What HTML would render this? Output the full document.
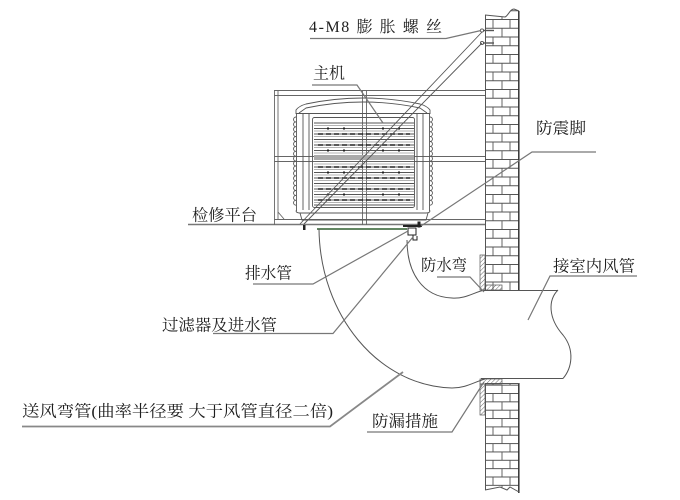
<!DOCTYPE html>
<html><head><meta charset="utf-8">
<style>
html,body{margin:0;padding:0;background:#fff;}
svg{display:block;}
text{font-family:"Liberation Serif","Noto Serif CJK SC",serif;fill:#1e1e1e;font-size:16px;}
</style></head><body>
<svg width="680" height="500" viewBox="0 0 680 500" xmlns="http://www.w3.org/2000/svg">
<defs>
<pattern id="brA" patternUnits="userSpaceOnUse" x="485" y="19" width="34" height="17.5">
 <path d="M0,0.5H34M0,9.25H34M8,0V8.75M25,0V8.75M17,8.75V17.5" stroke="#555" stroke-width="0.9" fill="none"/>
</pattern>
<pattern id="brB" patternUnits="userSpaceOnUse" x="485" y="393" width="34" height="16.7">
 <path d="M0,0.5H34M0,8.85H34M8,0V8.35M25,0V8.35M17,8.35V16.7" stroke="#555" stroke-width="0.9" fill="none"/>
</pattern>
<pattern id="hatch" patternUnits="userSpaceOnUse" width="3" height="3" patternTransform="rotate(45)">
 <line x1="0" y1="0" x2="0" y2="3" stroke="#444" stroke-width="0.8"/>
</pattern>
</defs>

<!-- ===== Wall upper ===== -->
<path d="M485,15 L505,17 C508,16 510,9 514,9 L519,11 L519,290 L485,290 Z" fill="url(#brA)"/>
<path d="M485,15 L505,17 C508,16 510,9 514,9 L519,11" fill="none" stroke="#555" stroke-width="1"/>
<line x1="485.5" y1="15" x2="485.5" y2="290" stroke="#555" stroke-width="1"/>
<line x1="518.8" y1="11" x2="518.8" y2="290" stroke="#333" stroke-width="1.5"/>

<!-- ===== Wall lower ===== -->
<path d="M485,383 L519,383 L519,492 L510,487 L507,490 L500,487 L485,490 Z" fill="url(#brB)"/>
<line x1="485.5" y1="383" x2="485.5" y2="490" stroke="#555" stroke-width="1"/>
<line x1="518.8" y1="383" x2="518.8" y2="493" stroke="#333" stroke-width="1.5"/>
<path d="M485,490 L500,487 L507,490 L510,487 L519,492" fill="none" stroke="#555" stroke-width="1"/>
<line x1="485" y1="383.5" x2="519" y2="383.5" stroke="#555" stroke-width="0.9"/>

<!-- flashing upper -->
<rect x="480" y="255" width="5" height="35" fill="url(#hatch)" stroke="#555" stroke-width="0.7"/>
<rect x="485" y="285" width="17" height="5" fill="url(#hatch)" stroke="#555" stroke-width="0.7"/>
<!-- flashing lower -->
<rect x="480" y="379" width="22" height="5" fill="url(#hatch)" stroke="#555" stroke-width="0.7"/>
<rect x="480" y="384" width="5" height="31" fill="url(#hatch)" stroke="#555" stroke-width="0.7"/>

<!-- ===== Frame (platform) ===== -->
<g stroke="#666" stroke-width="0.9" fill="none">
 <line x1="274" y1="90.5" x2="485" y2="90.5"/>
 <line x1="274" y1="95.5" x2="485" y2="95.5"/>
 <line x1="274" y1="156.5" x2="485" y2="156.5"/>
 <line x1="274" y1="161.5" x2="485" y2="161.5"/>
 <line x1="274" y1="219.5" x2="485" y2="219.5"/>
 <line x1="188" y1="224.5" x2="485" y2="224.5" stroke="#777" stroke-width="1.4"/>
 <line x1="274.5" y1="90" x2="274.5" y2="225"/>
 <line x1="278" y1="90" x2="278" y2="220"/>
 <line x1="362.5" y1="90" x2="362.5" y2="225"/>
 <line x1="366.5" y1="90" x2="366.5" y2="225"/>
 <line x1="278" y1="212" x2="284" y2="219"/>
</g>

<!-- ===== Unit ===== -->
<g stroke="#555" stroke-width="0.9" fill="none">
 <path d="M296,114 L296,110 Q299,106 306,104 Q363,92 420,104 Q427,106 430,110 L430,114"/>
 <path d="M299,113 L306,108 Q363,96 420,108 L427,113"/>
 <line x1="296" y1="113.5" x2="430" y2="113.5"/>
 <line x1="296.5" y1="113" x2="296.5" y2="211"/>
 <line x1="429.5" y1="113" x2="429.5" y2="211"/>
 <line x1="303" y1="114" x2="303" y2="210"/>
 <line x1="309" y1="114" x2="309" y2="210"/>
 <line x1="417" y1="114" x2="417" y2="210"/>
 <line x1="423" y1="114" x2="423" y2="210"/>
 <rect x="312.5" y="117.5" width="102" height="90" rx="2"/>
 <path d="M296,210.5 Q296,213 300,213 L426,213 Q430,213 430,210.5"/>
 <path d="M300,213 L302,220 L426,220 L428,213"/>
 <path d="M296,117 a2.45,2.45 0 0 0 0,4.9 a2.45,2.45 0 0 0 0,4.9 a2.45,2.45 0 0 0 0,4.9 a2.45,2.45 0 0 0 0,4.9 a2.45,2.45 0 0 0 0,4.9 a2.45,2.45 0 0 0 0,4.9 a2.45,2.45 0 0 0 0,4.9 a2.45,2.45 0 0 0 0,4.9 a2.45,2.45 0 0 0 0,4.9 a2.45,2.45 0 0 0 0,4.9 a2.45,2.45 0 0 0 0,4.9 a2.45,2.45 0 0 0 0,4.9 a2.45,2.45 0 0 0 0,4.9 a2.45,2.45 0 0 0 0,4.9 a2.45,2.45 0 0 0 0,4.9 a2.45,2.45 0 0 0 0,4.9 a2.45,2.45 0 0 0 0,4.9 a2.45,2.45 0 0 0 0,4.9"/>
 <path d="M430,117 a2.45,2.45 0 0 1 0,4.9 a2.45,2.45 0 0 1 0,4.9 a2.45,2.45 0 0 1 0,4.9 a2.45,2.45 0 0 1 0,4.9 a2.45,2.45 0 0 1 0,4.9 a2.45,2.45 0 0 1 0,4.9 a2.45,2.45 0 0 1 0,4.9 a2.45,2.45 0 0 1 0,4.9 a2.45,2.45 0 0 1 0,4.9 a2.45,2.45 0 0 1 0,4.9 a2.45,2.45 0 0 1 0,4.9 a2.45,2.45 0 0 1 0,4.9 a2.45,2.45 0 0 1 0,4.9 a2.45,2.45 0 0 1 0,4.9 a2.45,2.45 0 0 1 0,4.9 a2.45,2.45 0 0 1 0,4.9 a2.45,2.45 0 0 1 0,4.9 a2.45,2.45 0 0 1 0,4.9"/>
</g>
<!-- louvers -->
<rect x="314" y="155" width="100" height="5" fill="#aaa"/>
<g stroke="#555" stroke-width="0.9">
 <line x1="314" y1="123" x2="414" y2="123"/>
 <line x1="314" y1="128.5" x2="414" y2="128.5"/>
 <line x1="314" y1="134" x2="414" y2="134"/>
 <line x1="314" y1="139.5" x2="414" y2="139.5"/>
 <line x1="314" y1="145" x2="414" y2="145"/>
 <line x1="314" y1="150.5" x2="414" y2="150.5"/>
 <line x1="314" y1="167" x2="414" y2="167"/>
 <line x1="314" y1="172.5" x2="414" y2="172.5"/>
 <line x1="314" y1="178" x2="414" y2="178"/>
 <line x1="314" y1="183.5" x2="414" y2="183.5"/>
 <line x1="314" y1="189" x2="414" y2="189"/>
 <line x1="314" y1="194.5" x2="414" y2="194.5"/>
 <line x1="314" y1="200" x2="414" y2="200"/>
 <line x1="314" y1="205" x2="414" y2="205"/>
</g>
<g stroke="#999" stroke-width="0.8">
 <line x1="314" y1="125.5" x2="414" y2="125.5"/>
 <line x1="314" y1="131" x2="414" y2="131"/>
 <line x1="314" y1="136.5" x2="414" y2="136.5"/>
 <line x1="314" y1="142" x2="414" y2="142"/>
 <line x1="314" y1="147.5" x2="414" y2="147.5"/>
 <line x1="314" y1="153" x2="414" y2="153"/>
 <line x1="314" y1="164" x2="414" y2="164"/>
 <line x1="314" y1="169.5" x2="414" y2="169.5"/>
 <line x1="314" y1="175" x2="414" y2="175"/>
 <line x1="314" y1="180.5" x2="414" y2="180.5"/>
 <line x1="314" y1="186" x2="414" y2="186"/>
 <line x1="314" y1="191.5" x2="414" y2="191.5"/>
 <line x1="314" y1="197" x2="414" y2="197"/>
 <line x1="314" y1="202.5" x2="414" y2="202.5"/>
</g>
<g stroke="#222" stroke-width="1.6" stroke-dasharray="5,3">
 <line x1="318" y1="134" x2="410" y2="134"/>
 <line x1="318" y1="145" x2="410" y2="145"/>
 <line x1="318" y1="167" x2="410" y2="167"/>
 <line x1="318" y1="178" x2="410" y2="178"/>
 <line x1="318" y1="189" x2="410" y2="189"/>
 <line x1="318" y1="200" x2="410" y2="200"/>
</g>
<g fill="#222">
 <rect x="327" y="127.5" width="2" height="2"/><rect x="343" y="127.5" width="2" height="2"/><rect x="382" y="127.5" width="2" height="2"/><rect x="398" y="127.5" width="2" height="2"/>
 <rect x="327" y="149.5" width="2" height="2"/><rect x="343" y="149.5" width="2" height="2"/><rect x="382" y="149.5" width="2" height="2"/><rect x="398" y="149.5" width="2" height="2"/>
 <rect x="327" y="171.5" width="2" height="2"/><rect x="343" y="171.5" width="2" height="2"/><rect x="382" y="171.5" width="2" height="2"/><rect x="398" y="171.5" width="2" height="2"/>
 <rect x="327" y="193.5" width="2" height="2"/><rect x="343" y="193.5" width="2" height="2"/><rect x="382" y="193.5" width="2" height="2"/><rect x="398" y="193.5" width="2" height="2"/>
</g>

<!-- foot, green line, valve -->
<rect x="303" y="225" width="2.5" height="5" fill="#222"/>
<line x1="317" y1="229" x2="407" y2="229" stroke="#2f5f2f" stroke-width="1.6"/>
<g stroke="#222" fill="none" stroke-width="1">
 <line x1="403" y1="226" x2="422" y2="226" stroke-width="2"/>
 <rect x="408" y="228" width="8" height="7"/>
 <path d="M413,235 L413,240 L417,240 L417,236"/>
 <rect x="418" y="222" width="2" height="5" fill="#222"/>
</g>

<!-- rods & bolts -->
<g stroke="#555" stroke-width="0.9" fill="none">
 <line x1="482" y1="32" x2="300" y2="224"/>
 <line x1="482" y1="43" x2="304" y2="224"/>
 <circle cx="482" cy="30.5" r="1.6"/>
 <circle cx="482" cy="43" r="1.6"/>
 <line x1="483" y1="30.5" x2="494" y2="30.5" stroke-width="1.4"/>
 <line x1="483" y1="43" x2="494" y2="43" stroke-width="1.4"/>
</g>

<!-- ===== Duct ===== -->
<g stroke="#555" stroke-width="1" fill="none">
 <path d="M319,229 C320,315 378,386 452,388 C466,388 474,382 485,379"/>
 <path d="M407,240 C407,272 422,297 452,298 C466,299 474,292 485,290"/>
 <line x1="481" y1="290.5" x2="558" y2="290.5"/>
 <line x1="481" y1="378.5" x2="563" y2="378.5"/>
 <path d="M558,290 C548,300 548,318 563,335 C575,350 572,368 563,378.5"/>
</g>

<!-- ===== Leaders ===== -->
<g stroke="#777" stroke-width="1.2" fill="none">
 <path d="M310,38.5 L446,38.5 L481,30.5"/>
 <path d="M312,85 L357,85 L383,123"/>
 <path d="M596,152 L532,152 L421,226"/>
 <path d="M253,284 L313,284 L408,231"/>
 <path d="M213,333.5 L333,333.5 L413,237"/>
 <path d="M437,277 L470,277 L484,292"/>
 <path d="M637,276 L550,276 L528,320"/>
 <path d="M367,432 L452,432 L484,382"/>
 <path d="M22,426.5 L330,426.5 L403,372" stroke-width="1.8" stroke="#888"/>
</g>

<!-- ===== Labels ===== -->
<text x="309" y="32" font-size="15" textLength="133" lengthAdjust="spacing">4-M8 膨 胀 螺 丝</text>
<text x="313" y="78.5" textLength="32" lengthAdjust="spacingAndGlyphs">主机</text>
<text x="536" y="133.5" textLength="50" lengthAdjust="spacingAndGlyphs">防震脚</text>
<text x="192" y="220.5" textLength="65" lengthAdjust="spacingAndGlyphs">检修平台</text>
<text x="245" y="278.5" textLength="47" lengthAdjust="spacingAndGlyphs">排水管</text>
<text x="162" y="330.5" textLength="115" lengthAdjust="spacingAndGlyphs">过滤器及进水管</text>
<text x="421" y="270.5" textLength="46" lengthAdjust="spacingAndGlyphs">防水弯</text>
<text x="553" y="271.5" textLength="82" lengthAdjust="spacingAndGlyphs">接室内风管</text>
<text x="372" y="426.5" textLength="66" lengthAdjust="spacingAndGlyphs">防漏措施</text>
<text x="22" y="416.5" textLength="311" lengthAdjust="spacingAndGlyphs">送风弯管(曲率半径要 大于风管直径二倍)</text>
</svg>
</body></html>
